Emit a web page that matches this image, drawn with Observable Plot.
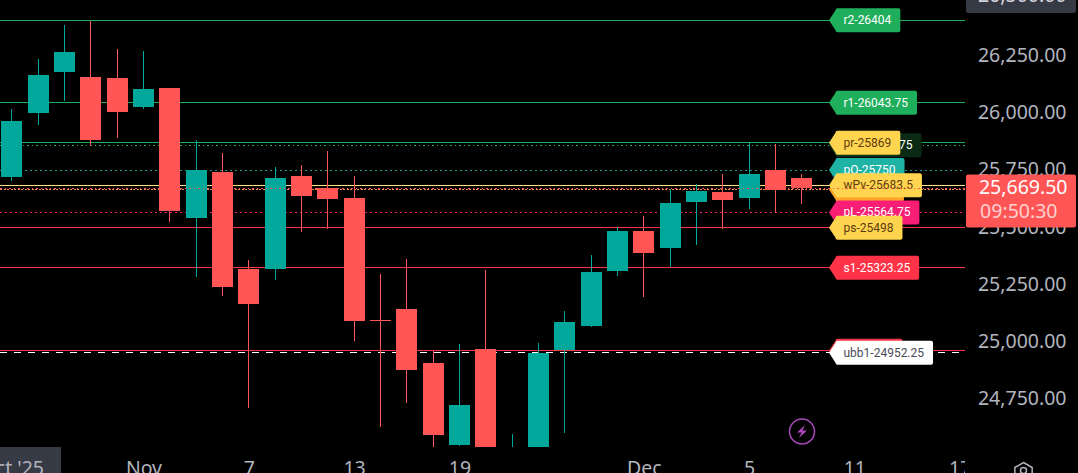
<!DOCTYPE html>
<html><head><meta charset="utf-8">
<style>html,body{margin:0;padding:0;background:#000;overflow:hidden}svg{display:block}</style>
<script src="https://cdn.jsdelivr.net/npm/d3@7"></script>
<script src="https://cdn.jsdelivr.net/npm/@observablehq/plot@0.6"></script>
</head><body><div id="chart"></div>
<script>
// daily candles
const opens  = [25717.6,25997,26176,26154.2,26149.9,26023.2,26106.2,25538.6,25739.4,25315.9,25315.9,25722,25669.6,25625.9,25093.3,25141.3,24905.5,24547.5,24966.7,24400,24450,24962.3,25067.1,25307.2,25481.9,25407.6,25608.5,25652.1,25625.9,25748.2,25713.3];
const closes = [25962,26163,26263.4,25879.2,26001.4,26101.8,25569.2,25748.2,25237.4,25163.1,25713.3,25634.7,25621.6,25088.9,25088.9,24875,24591.2,24722.2,24480,24510,24949.2,25084.5,25302.8,25481.9,25385.8,25604.1,25656.5,25617.2,25730.7,25660.9,25669.5];
const highs  = [26014.5,26232.8,26381.2,26398.7,26276.5,26267.7,26106.2,25879.2,25822.4,25355.2,25761.3,25770,25831.1,25722,25294.1,25359.6,24957.9,24988.5,25311.6,24595.6,24992.9,25132.6,25377.1,25499.3,25547.3,25665.2,25687.1,25730.7,25866.1,25861.7,25730.7];
const lows   = [25700.2,25944.6,26049.4,25853,25887.9,26014.5,25521.1,25281,25198.1,24709.1,25267.9,25477.5,25490.6,25001.6,24626.1,24730.9,24500,24543,24440,24350,24400,24599.9,25062.7,25285.4,25193.7,25324.7,25420.7,25490.6,25577.9,25560.4,25599.7];

const yTicks = [26250,26000,25750,25500,25250,25000,24750];
const boxedTick = [26500];
const xTickPos = [0,5,9,13,17,24,28,32,36];
const xTickText = ["Oct '25","Nov","7","13","19","Dec","5","11","17"];

const lastPrice = 25669.5;
const countdown = "09:50:30";

const levelNames  = ["pH","r2","r1","pr","pO","oP","wPv","pL","s2","ps","s1","ubb1"];
const levelValues = [25858.75,26404,26043.75,25869,25750,25665,25683.5,25564.75,24961,25498,25323.25,24952.25];
const levelLabels = ["pH-25858.75","r2-26404","r1-26043.75","pr-25869","pO-25750","oP-25665","wPv-25683.5","pL-25564.75","s2-24961","ps-25498","s1-25323.25","ubb1-24952.25"];
const levelColors = ["#0a2a14","#1fae5c","#1fae5c","#ffd54f","#1fb3a6","#ffa726","#ffd54f","#f91e75","#ff3347","#ffd54f","#ff3347","#ffffff"];
const levelText   = ["#ffffff","#ffffff","#ffffff","#5d3a10","#ffffff","#5d3a10","#5d3a10","#ffffff","#ffffff","#5d3a10","#ffffff","#4a4a55"];
const levelLines  = ["#1fae5c","#1fae5c","#1fae5c","#1fae5c","#1a9a8f","#ff8a50","#ffe08a","#f91e75","#ff3347","#ff3347","#ff3347","#ffffff"];
const levelDash   = ["1.5 3","","","","2 3","2 1.5","","2 3","","","","7 7"];
const drawOrder   = [0,1,2,3,4,5,7,6,8,9,10,11];

const UI = "'Noto Sans', sans-serif", TAG = "Roboto, sans-serif";
const candles = opens.map((o,i)=>({i,o,c:closes[i],h:highs[i],l:lows[i],up:closes[i]>=o}));
const TEAL="#00a79b", RED="#ff5555";
const levels = levelNames.map((n,k)=>({n,v:levelValues[k],label:levelLabels[k],fill:levelColors[k],ink:levelText[k],line:levelLines[k],dash:levelDash[k]}));

const cv = document.createElement("canvas").getContext("2d");
cv.font = "12px Roboto";
const X0 = 11.8, STEP = 26.33;
const px = p => (p-X0)/STEP;
const LABEL_X = px(828.5), HALF = 10.5/STEP;
const pin = w => ({draw(c){
  c.moveTo(0,0); c.lineTo(6.5,-10); c.quadraticCurveTo(6.5,-12,8.5,-12);
  c.lineTo(w-2,-12); c.quadraticCurveTo(w,-12,w,-10); c.lineTo(w,10);
  c.quadraticCurveTo(w,12,w-2,12); c.lineTo(8.5,12); c.quadraticCurveTo(6.5,12,6.5,10); c.closePath();
}});
const bolt = {draw(c){
  c.moveTo(3,-6.5); c.lineTo(-5,1); c.lineTo(-.5,1); c.lineTo(-3,6.5); c.lineTo(5,-1); c.lineTo(.5,-1); c.closePath();
}};
const hexa = {draw(c){
  const r=10; for(let a=0;a<6;a++){const t=Math.PI/3*a-Math.PI/2; const X=r*Math.cos(t),Y=r*Math.sin(t); a?c.lineTo(X,Y):c.moveTo(X,Y);} c.closePath();
}};
const labelMarks = drawOrder.flatMap(k=>{
  const l=levels[k], w=cv.measureText(l.label).width+23.5;
  return [
    Plot.dot([l],{x:()=>LABEL_X,y:"v",symbol:pin(w),fill:l.fill,stroke:"none"}),
    Plot.text([l],{x:()=>LABEL_X,y:"v",text:"label",dx:14.5,textAnchor:"start",fill:l.ink,fontSize:12,fontFamily:TAG})
  ];
});
const BOTTOM = 24538.8, TOP = 26490.4;

const chart = Plot.plot({
  width:1078,height:473,marginTop:0,marginLeft:0,marginRight:113,marginBottom:26,
  style:{background:"#000",fontFamily:UI,color:"#b2b5be"},
  x:{type:"linear",domain:[px(0),px(965)],range:[0,965],axis:null},
  y:{type:"linear",domain:[BOTTOM,TOP],range:[447,0],axis:null},
  marks:[
    // levels below the candles
    ...levels.map(l=>Plot.ruleY([l.v],{stroke:l.line,strokeWidth:1,strokeDasharray:l.dash||undefined,clip:"frame",shapeRendering:"crispEdges"})),
    // candles
    Plot.ruleX(candles,{x:"i",dx:-0.5,y1:"l",y2:"h",stroke:d=>d.up?TEAL:RED,strokeWidth:1,clip:"frame",shapeRendering:"crispEdges"}),
    Plot.rect(candles,{x1:d=>d.i-HALF,x2:d=>d.i+HALF,y1:"o",y2:"c",fill:d=>d.up?TEAL:RED,clip:"frame",shapeRendering:"crispEdges"}),
    // y axis
    Plot.axisY(yTicks,{anchor:"right",tickSize:0,tickPadding:101,textAnchor:"end",tickFormat:d3.format(",.2f"),fill:"#b2b5be",fontSize:19.5,fontFamily:UI,label:null}),
    // x axis
    Plot.rect([0],{x1:()=>-2,x2:()=>px(61),y1:()=>BOTTOM,y2:()=>BOTTOM,insetBottom:-26,fill:"#363a45"}),
    Plot.axisX(xTickPos,{anchor:"bottom",tickSize:0,tickPadding:13.5,tickFormat:i=>xTickText[xTickPos.indexOf(i)],fill:"#b2b5be",fontSize:19.5,fontFamily:UI,label:null}),
    // price panel covers the clipped "17"
    Plot.rect([0],{x1:()=>px(965),x2:()=>px(1078),y1:()=>BOTTOM,y2:()=>BOTTOM,insetBottom:-26,fill:"#000"}),
    Plot.dot([0],{x:()=>px(1023),y:()=>BOTTOM,dy:25,symbol:hexa,fill:"none",stroke:"#b2b5be",strokeWidth:1.5}),
    Plot.dot([0],{x:()=>px(1023),y:()=>BOTTOM,dy:23,r:3,fill:"none",stroke:"#b2b5be",strokeWidth:1.5}),
    // boxed top value
    Plot.rect(boxedTick,{x1:()=>px(966),x2:()=>px(1076),y1:()=>TOP,y2:()=>TOP,insetTop:-3,insetBottom:-13,rx:2,fill:"#363a45"}),
    Plot.text(boxedTick,{x:()=>px(1066),y:d=>d,dy:-3,text:d3.format(",.2f"),textAnchor:"end",fill:"#d1d4dc",fontSize:19.5,fontFamily:UI}),
    // pinned labels
    ...labelMarks,
    // icon
    Plot.dot([0],{x:()=>px(801.5),y:()=>TOP-431*4.366,r:12.5,fill:"#000",stroke:"#ab47bc",strokeWidth:1.5}),
    Plot.dot([0],{x:()=>px(801.5),y:()=>TOP-431*4.366,symbol:bolt,fill:"#ab47bc",stroke:"none"}),
    // last price line and tag
    Plot.ruleY([lastPrice],{stroke:RED,strokeWidth:1,strokeDasharray:"1.5 3",clip:"frame",shapeRendering:"crispEdges"}),
    Plot.rect([lastPrice],{x1:()=>px(966),x2:()=>px(1076),y1:d=>d,y2:d=>d,insetTop:-13.5,insetBottom:-39.5,rx:2,fill:RED}),
    Plot.text([lastPrice],{x:()=>px(1067),y:d=>d,dy:-1,text:d3.format(",.2f"),textAnchor:"end",fill:"#fff",fontSize:19.5,fontFamily:UI}),
    Plot.text([countdown],{x:()=>px(1057),y:()=>lastPrice,dy:23,text:d=>d,textAnchor:"end",fill:"#ffd0d0",fontSize:19.5,fontFamily:UI})
  ]
});
document.getElementById("chart").append(chart);
</script></body></html>
